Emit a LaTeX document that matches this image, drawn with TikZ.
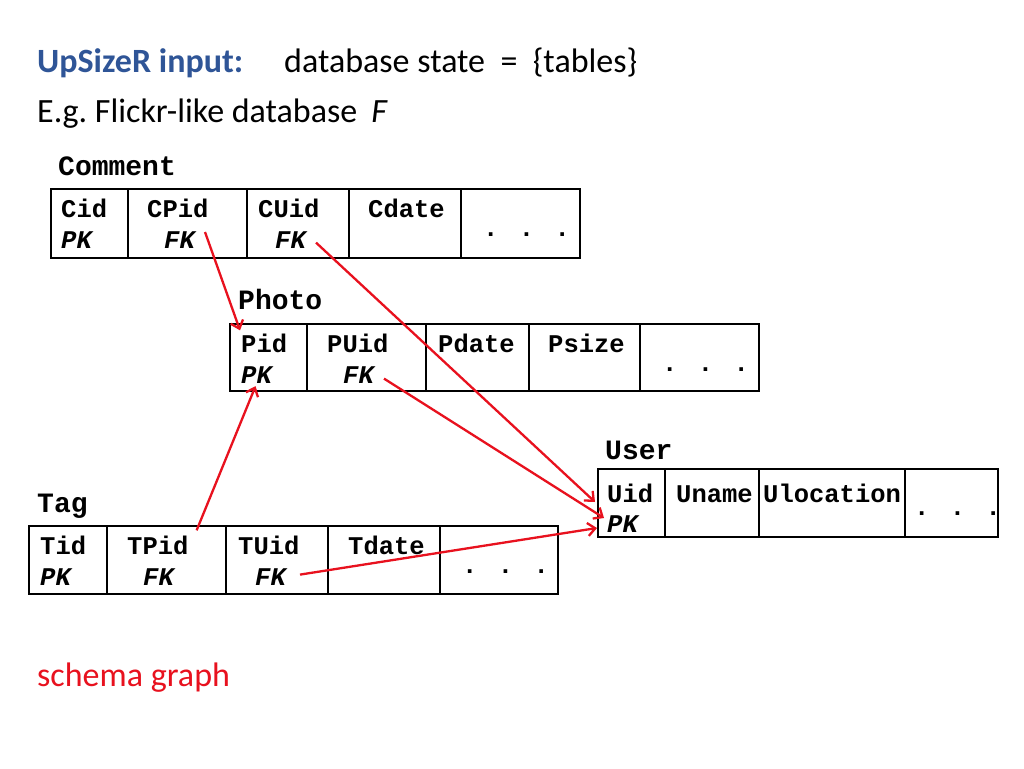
\documentclass[tikz,border=0pt]{standalone}
\usepackage{fontspec}
\setmainfont{Carlito}
\newfontfamily\cour{Liberation Mono}
\usetikzlibrary{arrows.meta,calc}
\definecolor{hdrblue}{RGB}{47,85,151}
\definecolor{arrred}{RGB}{232,17,30}
\newcommand\cellbox[5]{\node[tcell, minimum width={(#3-#2)*1pt}, minimum height={(#5-#4)*1pt}, anchor=north west] (#1) at (#2,#4) {};}
\begin{document}
\begin{tikzpicture}[x=1pt,y=-1pt,
  tcell/.style={draw=black, line width=2.7pt, inner sep=0pt, outer sep=0pt},
  hdr/.style={anchor=base west, inner sep=0pt, font=\fontsize{34}{34}\selectfont},
  ttl/.style={anchor=base west, inner sep=0pt, font=\cour\bfseries\fontsize{28}{28}\selectfont},
  nm/.style={anchor=base west, inner sep=0pt, font=\cour\bfseries\fontsize{25.5}{25.5}\selectfont},
  ky/.style={anchor=base west, inner sep=0pt, font=\cour\bfseries\itshape\fontsize{25.5}{25.5}\selectfont},
  fkarrow/.style={draw=arrred, line width=2.3pt, -{Straight Barb[length=7.5pt,width=13pt,line width=2.3pt]}}]
\useasboundingbox[fill=white] (0,0) rectangle (1024,768);

% header
\node[hdr, text=hdrblue, font=\fontsize{34}{34}\selectfont\bfseries] (up) at (37,72) {UpSizeR input:};
\node[hdr] (dbs) at (284,72) {database state\ \ =\ \ \{tables\}};
\node[hdr] (eg) at (37,122) {E.g.\ Flickr-like database\hspace{14pt}\textit{F}};
\node[hdr, text=arrred] (sg) at (37,686) {schema graph};

% Comment table
\node[ttl] (comment) at (58,175) {Comment};
\cellbox{cc1}{51}{128}{189}{258}
\cellbox{cc2}{128}{247}{189}{258}
\cellbox{cc3}{247}{349}{189}{258}
\cellbox{cc4}{349}{461}{189}{258}
\cellbox{cc5}{461}{580}{189}{258}
\node[nm] (cid) at (61,217) {Cid};
\node[ky] (cidpk) at (61,248) {PK};
\node[nm] (cpid) at (147,217) {CPid};
\node[ky] (cpidfk) at (164,248) {FK};
\node[nm] (cuid) at (258,217) {CUid};
\node[ky] (cuidfk) at (275,248) {FK};
\node[nm] (cdate) at (368,217) {Cdate};
\node[nm] (cdots) at (483,236) {. . .};

% Photo table
\node[ttl] (photo) at (238,309) {Photo};
\cellbox{pc1}{230}{307}{324}{391}
\cellbox{pc2}{307}{426}{324}{391}
\cellbox{pc3}{426}{529}{324}{391}
\cellbox{pc4}{529}{640}{324}{391}
\cellbox{pc5}{640}{759}{324}{391}
\node[nm] (pid) at (241,352) {Pid};
\node[ky] (pidpk) at (241,383) {PK};
\node[nm] (puid) at (327,352) {PUid};
\node[ky] (puidfk) at (343,383) {FK};
\node[nm] (pdate) at (438,352) {Pdate};
\node[nm] (psize) at (548,352) {Psize};
\node[nm] (pdots) at (662,371) {. . .};

% User table
\node[ttl] (user) at (605,459) {User};
\cellbox{uc1}{598}{665}{469}{537}
\cellbox{uc2}{665}{759}{469}{537}
\cellbox{uc3}{759}{905}{469}{537}
\cellbox{uc4}{905}{998}{469}{537}
\node[nm] (uid) at (607,502) {Uid};
\node[ky] (uidpk) at (607,532) {PK};
\node[nm] (uname) at (676,502) {Uname};
\node[nm] (uloc) at (763,502) {Ulocation};
\node[nm] (udots) at (914,515) {. . .};

% Tag table
\node[ttl] (tag) at (37,512) {Tag};
\cellbox{tc1}{29}{107}{526}{594}
\cellbox{tc2}{107}{226}{526}{594}
\cellbox{tc3}{226}{328}{526}{594}
\cellbox{tc4}{328}{440}{526}{594}
\cellbox{tc5}{440}{558}{526}{594}
\node[nm] (tid) at (40,554) {Tid};
\node[ky] (tidpk) at (40,585) {PK};
\node[nm] (tpid) at (127,554) {TPid};
\node[ky] (tpidfk) at (143,585) {FK};
\node[nm] (tuid) at (238,554) {TUid};
\node[ky] (tuidfk) at (255,585) {FK};
\node[nm] (tdate) at (348,554) {Tdate};
\node[nm] (tdots) at (462,573) {. . .};

% foreign key arrows
\draw[fkarrow] ([xshift=10pt,yshift=-1pt]cpidfk.north east) -- ([xshift=-1pt,yshift=3pt]pid.north west);
\draw[fkarrow] ([xshift=10pt,yshift=-3pt]cuidfk.east) -- ([xshift=-3pt,yshift=1pt]uc1.west);
\draw[fkarrow] ([xshift=10pt,yshift=-4pt]puidfk.east) -- ([xshift=6pt,yshift=-15pt]uc1.west);
\draw[fkarrow] ([xshift=8pt,yshift=5pt]tpid.north east) -- ([xshift=-1pt,yshift=-3pt]pidpk.south);
\draw[fkarrow] ([xshift=14pt,yshift=2pt]tuidfk.east) -- ([xshift=-1pt,yshift=-25pt]uc1.west);
\end{tikzpicture}
\end{document}
